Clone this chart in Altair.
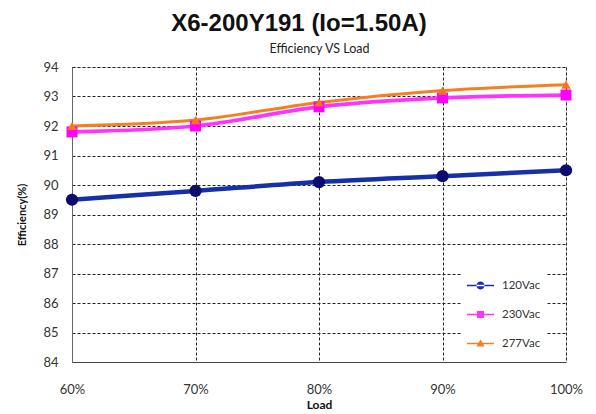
import altair as alt
import pandas as pd

loads = [60, 70, 80, 90, 100]
v120 = [89.5, 89.8, 90.1, 90.3, 90.5]
v230 = [91.8, 92.0, 92.65, 92.95, 93.05]
v277 = [92.0, 92.2, 92.8, 93.2, 93.4]
series = ["120Vac", "230Vac", "277Vac"]
y_ticks = list(range(84, 95))

line_colors = ["#1630aa", "#ff33ff", "#f58024"]
point_colors = ["#0c0c6e", "#ff00ff", "#ff7318"]

rows = []
for name, vals in zip(series, [v120, v230, v277]):
    for ld, v in zip(loads, vals):
        rows.append({"load": ld, "eff": v, "series": name})
df = pd.DataFrame(rows)

LINE = "M-1,-0.06H1V0.06H-1Z"
CIRC = "M-0.3,0A0.3,0.3 0 1,0 0.3,0A0.3,0.3 0 1,0 -0.3,0Z"
SQR = "M-0.26,-0.26H0.26V0.26H-0.26Z"
TRI = "M0,-0.32L0.3,0.22L-0.3,0.22Z"
legend_shapes = [LINE + CIRC, LINE + SQR, LINE + TRI]

base = alt.Chart(df)

xs = alt.Scale(domain=[60, 100], nice=False)
ys = alt.Scale(domain=[84, 94], nice=False, zero=False)

line = base.mark_line(interpolate="monotone").encode(
    x=alt.X("load:Q", scale=xs,
            axis=alt.Axis(values=loads, labelExpr="datum.value + '%'", title="Load",
                          grid=True, gridColor="#222", gridDash=[3, 2], labelFlush=False,
                          ticks=False, labelPadding=21, labelFont="Lato", labelFontSize=13,
                          labelColor="#333", titleFont="Lato", titleFontSize=12,
                          titleFontWeight="bold", titleColor="#111", titlePadding=3,
                          domainColor="#444")),
    y=alt.Y("eff:Q", scale=ys,
            axis=alt.Axis(values=y_ticks, title="Efficiency(%)", grid=True,
                          gridColor="#222", gridDash=[3, 2], ticks=False,
                          labelPadding=14, labelFont="Lato", labelFontSize=13,
                          labelColor="#333", titleFont="Lato", titleFontSize=11,
                          titleFontWeight="bold", titleColor="#111", titlePadding=15,
                          domainColor="#666")),
    color=alt.Color("series:N", scale=alt.Scale(domain=series, range=line_colors), legend=None),
    strokeWidth=alt.StrokeWidth("series:N", scale=alt.Scale(domain=series, range=[4.5, 3, 3]),
                                legend=None),
)

pts = base.mark_point(filled=True, opacity=1).encode(
    x=alt.X("load:Q", axis=alt.Axis(orient="top", title="Efficiency VS Load", labels=False,
                                    ticks=False, domain=False, grid=False, titleFont="Lato",
                                    titleFontSize=12.5, titleFontWeight="normal",
                                    titleColor="#222", titlePadding=12)),
    y=alt.Y("eff:Q", axis=None),
    fill=alt.Fill("series:N", scale=alt.Scale(domain=series, range=point_colors), legend=None),
    shape=alt.Shape("series:N", scale=alt.Scale(domain=series,
                                                range=["circle", "square", "triangle-up"]),
                    legend=None),
    size=alt.Size("series:N", scale=alt.Scale(domain=series, range=[150, 90, 130]), legend=None),
)

leg = dict(orient="none", legendX=390, legendY=200, title=None,
           fillColor="white", padding=5, rowPadding=10,
           symbolSize=729, labelFont="Lato", labelFontSize=11.5,
           labelColor="#333", labelOffset=8, symbolStrokeWidth=0, symbolOpacity=1)

legend_layer = base.mark_point(filled=True, opacity=1, strokeWidth=0).transform_filter("false").encode(
    x=alt.X("load:Q", axis=None),
    y=alt.Y("eff:Q", axis=None),
    color=alt.Color("series:N", scale=alt.Scale(domain=series, range=line_colors),
                    legend=alt.Legend(**leg)),
    shape=alt.Shape("series:N", scale=alt.Scale(domain=series, range=legend_shapes),
                    legend=alt.Legend(**leg)),
)

chart = alt.layer(line, pts, legend_layer).resolve_axis(
    x="independent", y="independent").resolve_scale(
    shape="independent", color="independent").properties(
    width=494, height=295,
    padding={"left": 64, "top": 59, "right": 22, "bottom": 52},
    autosize=alt.AutoSizeParams(type="none"),
    title=alt.Title("X6-200Y191 (Io=1.50A)", fontSize=24, font="Liberation Sans",
                    fontWeight="bold", anchor="middle", dx=-20, offset=6, color="#111"),
).configure_view(stroke="#555", strokeWidth=1).configure(background="white")

chart.save("out.html", embed_options={"renderer": "svg", "actions": False})
